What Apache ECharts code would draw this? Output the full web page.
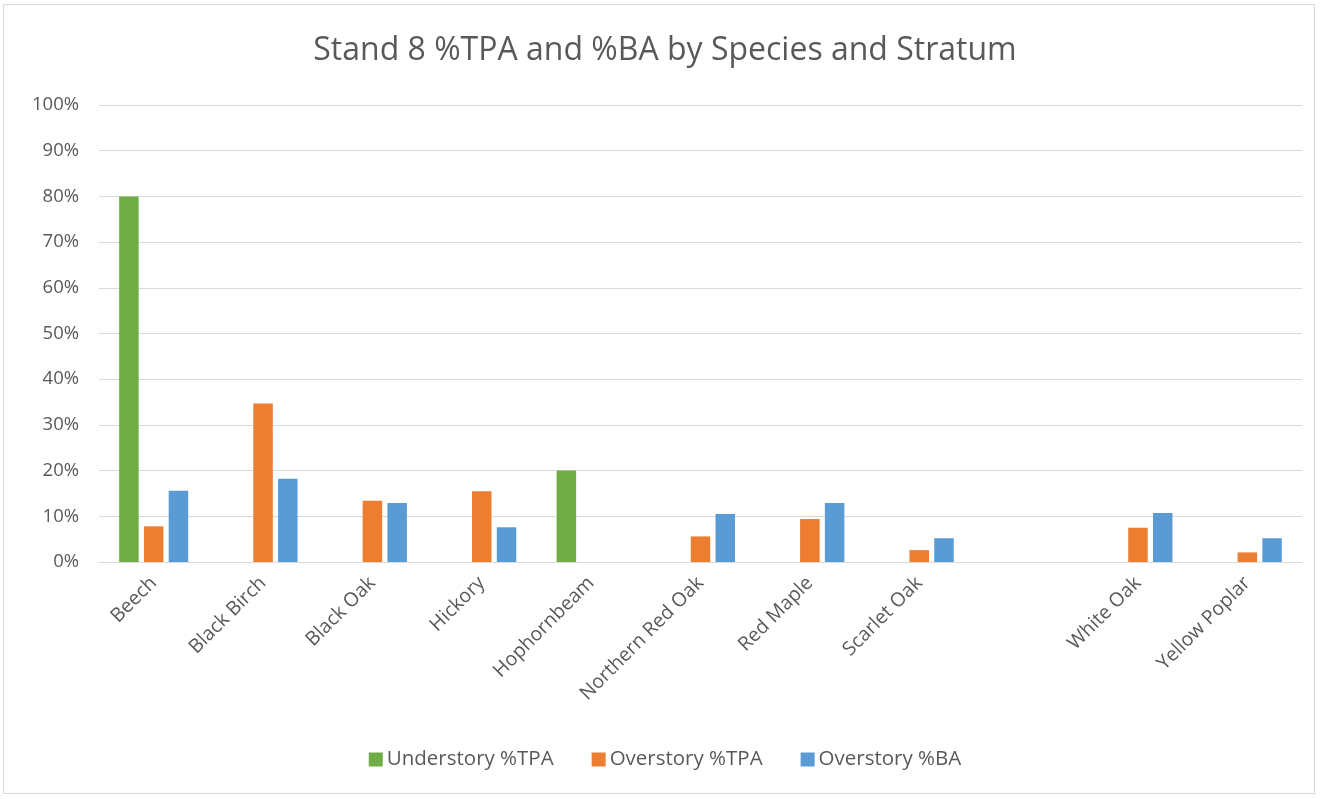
<!DOCTYPE html>
<html>
<head>
<meta charset="utf-8">
<script src="https://cdn.jsdelivr.net/npm/echarts@6/dist/echarts.min.js"></script>
<style>
html,body{margin:0;padding:0;background:#fff;}
#frame{position:absolute;left:3px;top:4px;width:1312px;height:790px;border:1px solid #d9d9d9;box-sizing:border-box;}
#chart{position:absolute;left:0;top:0;width:1330px;height:799px;}
</style>
</head>
<body>
<div id="frame"></div>
<div id="chart"></div>
<script>
const categories = ['Beech','Black Birch','Black Oak','Hickory','Hophornbeam','Northern Red Oak','Red Maple','Scarlet Oak','','White Oak','Yellow Poplar'];
const understoryTPA = [80, null, null, null, 20, null, null, null, null, null, null];
const overstoryTPA = [7.8, 34.7, 13.4, 15.5, null, 5.6, 9.4, 2.6, null, 7.5, 2.1];
const overstoryBA = [15.6, 18.2, 12.9, 7.6, null, 10.5, 12.9, 5.2, null, 10.7, 5.2];
const yTicks = [0, 10, 20, 30, 40, 50, 60, 70, 80, 90, 100];

const font = '"Open Sans", "Noto Sans", sans-serif';
const chart = echarts.init(document.getElementById('chart'));
chart.setOption({
  animation: false,
  backgroundColor: 'transparent',
  title: {
    text: 'Stand 8 %TPA and %BA by Species and Stratum',
    left: 'center',
    top: 30,
    textStyle: {fontFamily: font, fontSize: 32, fontWeight: 'normal', color: '#595959'}
  },
  legend: {
    bottom: 24,
    left: 'center',
    itemWidth: 14,
    itemHeight: 14,
    itemGap: 38,
    icon: 'rect',
    textStyle: {fontFamily: font, fontSize: 20.5, color: '#595959', padding: [0, 0, 0, -1]},
    data: ['Understory %TPA','Overstory %TPA','Overstory %BA']
  },
  grid: {left: 99, right: 28, top: 105, bottom: 237, containLabel: false},
  xAxis: {
    type: 'category',
    data: categories,
    axisLine: {lineStyle: {color: '#d9d9d9', width: 1}},
    axisTick: {show: false},
    axisLabel: {rotate: 45, interval: 0, fontFamily: font, fontSize: 19.5, color: '#595959', margin: 18}
  },
  yAxis: {
    type: 'value',
    min: yTicks[0],
    max: yTicks[yTicks.length - 1],
    interval: 10,
    axisLine: {show: false},
    axisTick: {show: false},
    splitLine: {lineStyle: {color: '#d9d9d9', width: 1}},
    axisLabel: {formatter: v => v + '%', fontFamily: font, fontSize: 18.5, color: '#595959', margin: 20}
  },
  series: [
    {name: 'Understory %TPA', type: 'bar', data: understoryTPA, barWidth: 19.5, barGap: '27%', itemStyle: {color: '#70AD47'}},
    {name: 'Overstory %TPA', type: 'bar', data: overstoryTPA, barWidth: 19.5, barGap: '27%', itemStyle: {color: '#ED7D31'}},
    {name: 'Overstory %BA', type: 'bar', data: overstoryBA, barWidth: 19.5, barGap: '27%', itemStyle: {color: '#5B9BD5'}}
  ]
});
</script>
</body>
</html>
